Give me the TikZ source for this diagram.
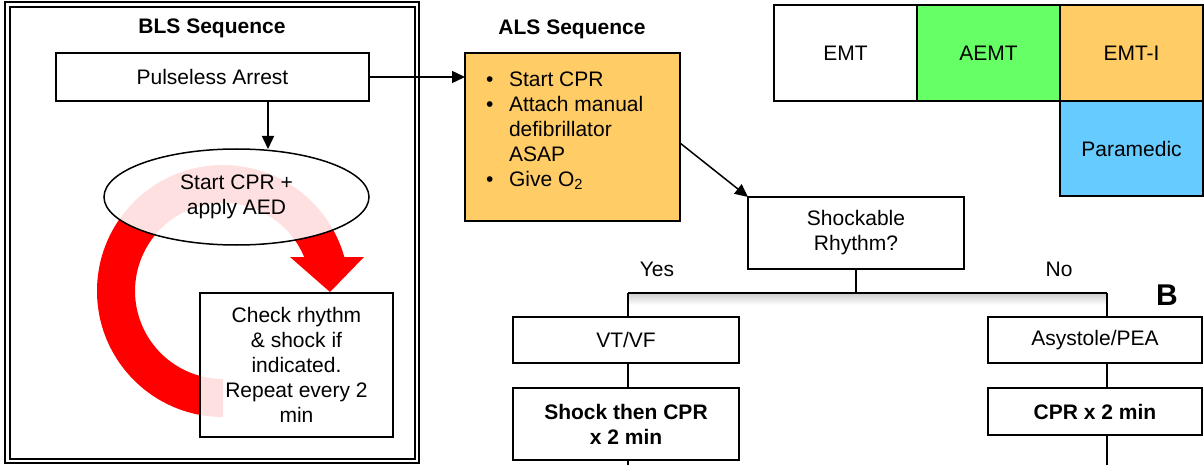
\documentclass[tikz,border=0pt]{standalone}
\usepackage{fontspec}
\setmainfont{Liberation Sans}
\usetikzlibrary{shapes.geometric}
\usetikzlibrary{arrows.meta}
\usetikzlibrary{positioning}
\definecolor{alsorange}{HTML}{FFCC66}
\definecolor{aemtgreen}{HTML}{66FF66}
\definecolor{medicblue}{HTML}{66CCFF}

\begin{document}
\begin{tikzpicture}[x=1pt,y=-1pt,
    font=\fontsize{21}{25}\selectfont,
    box/.style={draw, line width=1.5pt, fill=white, align=center, inner sep=0pt, outer sep=0pt},
    lvl/.style={box, minimum width=143pt, minimum height=96pt},
    seethru/.style={fill opacity=0.88, text opacity=1},
    boldtext/.style={font=\fontsize{21}{25}\selectfont\bfseries},
    link/.style={line width=1.5pt},
    arr/.style={line width=1.5pt, -{Triangle[length=13pt,width=12pt]}}]
    \useasboundingbox (0,0) rectangle (1204,465);

    % BLS side
    \draw[line width=1.8pt] (5,2) rectangle (419,463);
    \draw[line width=1.5pt] (10,7) rectangle (415,459);
    \node[boldtext] (blstitle) at (212,28) {BLS Sequence};
    \fill[red] (223,417) arc[start angle=90, end angle=344.35, radius=126]
        -- (364,257) -- (330,292) -- (290,257) -- (304.2,257)
        arc[start angle=337.3, end angle=90, radius=88] -- cycle;
    \node[box, minimum width=313pt, minimum height=48pt] (arrest) at (212.5,77) {Pulseless Arrest};
    \node[box, ellipse, seethru, minimum width=265pt, minimum height=96pt] (cpr) at (236.5,197) {Start CPR +\\apply AED};
    \node[box, seethru, minimum width=193pt, minimum height=144pt] (check) at (296.5,365) {Check rhythm\\\& shock if\\indicated.\\Repeat every 2\\min};
    \draw[arr] ([xshift=55.5pt]arrest.south) -- ([xshift=55.5pt]arrest.south |- cpr.north);

    % ALS side
    \node[boldtext] (alstitle) at (572,29) {ALS Sequence};
    \node[box, fill=alsorange, minimum width=215pt, minimum height=168pt] (als) at (572.5,137) {};
    \node[anchor=north west, inner sep=0pt] (alsitems) at (486,69) {%
        \begin{tabular}{@{}l@{\hspace{15.5pt}}l@{}}
        • & Start CPR\\
        • & Attach manual\\
          & defibrillator\\
          & ASAP\\
        • & Give O\textsubscript{2}
        \end{tabular}};
    \draw[arr] (arrest.east) -- (arrest.east -| als.west);

    \node[box, minimum width=216pt, minimum height=72pt] (rhythm) at (856,233) {Shockable\\Rhythm?};
    \draw[arr] ([yshift=-6pt]als.east) -- (rhythm.north west);
    \node (yes) at (657,269) {Yes};
    \node (no) at (1059,269) {No};

    \coordinate (split) at (856,293);
    \coordinate (yesend) at (628,293);
    \coordinate (noend) at (1107,293);
    \coordinate (yesout) at (628,465);
    \coordinate (noout) at (1107,465);
    \shade[top color=black!20, bottom color=white] (yesend) rectangle ([yshift=-12pt]noend);

    \node[box, minimum width=226pt, minimum height=46pt] (vtvf) at (626,340) {VT/VF};
    \node[box, boldtext, minimum width=226pt, minimum height=72pt] (shockcpr) at (626,424) {Shock then CPR\\x 2 min};
    \node[box, minimum width=214pt, minimum height=46pt] (asys) at (1095,340) {Asystole/PEA};
    \node[box, boldtext, minimum width=214pt, minimum height=47pt] (cprtwo) at (1095,411.5) {CPR x 2 min};

    \draw[link] (rhythm.south) -- (split);
    \draw[link] (yesend) -- (noend);
    \draw[link] (yesend) -- (yesend |- vtvf.north);
    \draw[link] (noend) -- (noend |- asys.north);
    \draw[link] (vtvf.south -| yesend) -- (yesend |- shockcpr.north);
    \draw[link] (asys.south -| noend) -- (noend |- cprtwo.north);
    \draw[link] (shockcpr.south -| yesout) -- (yesout);
    \draw[link] (cprtwo.south -| noout) -- (noout);
    \node[font=\fontsize{30}{36}\selectfont\bfseries] (panel) at (1167,295) {B};

    % provider levels
    \node[lvl] (emt) at (845.5,53) {EMT};
    \node[lvl, fill=aemtgreen, right=0pt of emt] (aemt) {AEMT};
    \node[lvl, fill=alsorange, right=0pt of aemt] (emti) {EMT-I};
    \node[lvl, fill=medicblue, minimum height=95pt, below=0pt of emti] (medic) {Paramedic};
\end{tikzpicture}
\end{document}
